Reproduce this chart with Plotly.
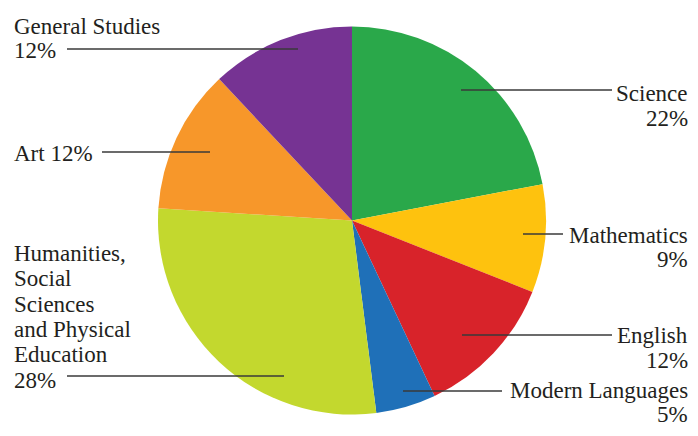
import plotly.graph_objects as go

# ---- data ----
subjects = ["Science", "Mathematics", "English", "Modern Languages",
            "Humanities, Social Sciences and Physical Education", "Art", "General Studies"]
shares = [22, 9, 12, 5, 28, 12, 12]
colors = ["#2aa84a", "#fec20e", "#d8232a", "#1f70b8", "#c3d82e", "#f7972a", "#763393"]

# label text lines (each label broken as in the reference)
label_lines = [
    ["Science", "22%"],
    ["Mathematics", "9%"],
    ["English", "12%"],
    ["Modern Languages", "5%"],
    ["Humanities,", "Social", "Sciences", "and Physical", "Education", "28%"],
    ["Art 12%"],
    ["General Studies", "12%"],
]

# ---- layout (window pixels) ----
WIN_W, WIN_H = 698, 436
OFF = 8  # page body margin
W, H = WIN_W - 2 * OFF, WIN_H - 2 * OFF
CX, CY, R = 352, 220.5, 194

# label placement: side, anchor x, first baseline, line step, leader line (x0, x1, y)
label_layout = [
    ("right", 689, 101, 25, (461, 612, 90)),
    ("right", 689, 243, 24.5, (523, 563, 234)),
    ("right", 689, 343, 25, (462, 612, 335)),
    ("right", 689, 398, 24, (403, 502, 391)),
    ("left", 13, 261, 25.4, (67, 284, 376)),
    ("left", 13, 161, 25, (102, 210, 152)),
    ("left", 13, 34, 24.5, (67, 298, 49)),
]

FONT = "Liberation Serif"
FS = 23
TXT = "#231f20"


def px(x):
    return (x - OFF) / W


def py(y):
    return 1 - (y - OFF) / H


fig = go.Figure(go.Pie(
    labels=subjects,
    values=shares,
    sort=False,
    direction="clockwise",
    rotation=0,
    marker=dict(colors=colors, line=dict(width=0)),
    textinfo="none",
    hoverinfo="label+percent",
    showlegend=False,
    domain=dict(x=[px(CX - R), px(CX + R)], y=[py(CY + R), py(CY - R)]),
))

annotations = []
shapes = []
for lines, (side, ax, base0, step, (lx0, lx1, ly)) in zip(label_lines, label_layout):
    for i, t in enumerate(lines):
        base = base0 + i * step
        annotations.append(dict(
            x=px(ax), y=py(base - 7.8), xref="paper", yref="paper",
            text=t, showarrow=False,
            xanchor="right" if side == "right" else "left", yanchor="middle",
            font=dict(family=FONT, size=FS, color=TXT),
            borderpad=0,
        ))
    shapes.append(dict(
        type="line", xref="paper", yref="paper",
        x0=px(lx0), x1=px(lx1), y0=py(ly), y1=py(ly),
        line=dict(color="#3a3a3a", width=1.4),
        layer="above",
    ))

fig.update_layout(
    width=W, height=H,
    margin=dict(l=0, r=0, t=0, b=0),
    paper_bgcolor="white",
    plot_bgcolor="white",
    font=dict(family=FONT),
    annotations=annotations,
    shapes=shapes,
)

fig.write_html("out.html")
